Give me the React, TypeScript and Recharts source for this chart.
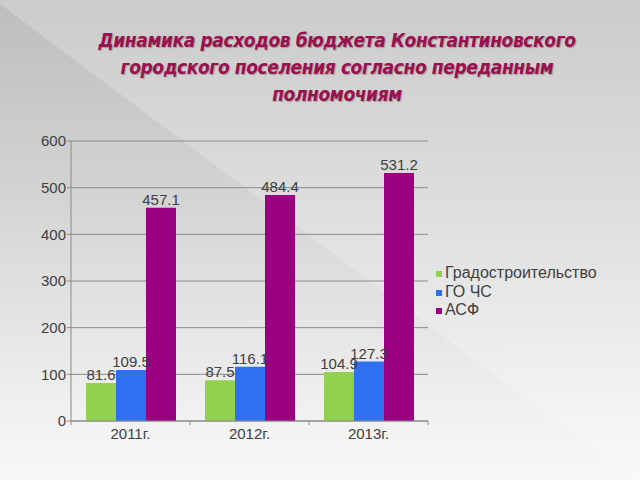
import React from 'react';
import { BarChart, Bar, XAxis, YAxis, CartesianGrid, Legend, LabelList } from 'recharts';

const categories = ['2011г.', '2012г.', '2013г.'];
const gradostroitelstvo = [81.6, 87.5, 104.9];
const goChs = [109.5, 116.1, 127.3];
const asf = [457.1, 484.4, 531.2];
const yTicks = [0, 100, 200, 300, 400, 500, 600];
const seriesNames = ['Градостроительство', 'ГО ЧС', 'АСФ'];
const seriesColors = ['#92d050', '#2f70f2', '#9b0080'];
const titleLines = [
  'Динамика расходов бюджета Константиновского',
  'городского поселения согласно переданным',
  'полномочиям',
];

const data = categories.map((c, i) => ({
  name: c,
  g: gradostroitelstvo[i],
  c: goChs[i],
  a: asf[i],
}));

const FONT = '"Liberation Sans", Arial, sans-serif';
const TEXT = '#404040';
const AXIS = '#8a8a8a';

const XTick = (props: any) => {
  const { x, y, payload, index, visibleTicksCount, width } = props;
  const half = payload && payload.offset ? payload.offset : width / visibleTicksCount / 2;
  const axisY = y - 6;
  return (
    <g>
      <line x1={x - half} x2={x - half} y1={axisY} y2={axisY + 4} stroke={AXIS} />
      {index === visibleTicksCount - 1 && (
        <line x1={x + half} x2={x + half} y1={axisY} y2={axisY + 4} stroke={AXIS} />
      )}
      <text x={x} y={y} dy="0.78em" textAnchor="middle" fill={TEXT} fontSize={15} fontFamily={FONT}>
        {payload.value}
      </text>
    </g>
  );
};

const renderLegend = (props: any) => {
  const payload: any[] = props.payload || [];
  const ordered = seriesNames
    .map((n) => payload.find((p: any) => p.value === n))
    .filter(Boolean);
  return (
    <div style={{ fontFamily: FONT, fontSize: 16, color: TEXT, lineHeight: '18.5px' }}>
      {ordered.map((p: any) => (
        <div key={p.value} style={{ display: 'flex', alignItems: 'center', whiteSpace: 'nowrap' }}>
          <span
            style={{
              display: 'inline-block',
              width: 6,
              height: 6,
              background: p.color,
              marginRight: 3,
              marginTop: 2,
            }}
          />
          <span>{p.value}</span>
        </div>
      ))}
    </div>
  );
};

export default function App() {
  return (
    <div
      style={{
        position: 'absolute',
        left: 0,
        top: 0,
        width: 640,
        height: 480,
        overflow: 'hidden',
        background: 'linear-gradient(to bottom, #bdbdbd 0%, #d3d3d3 40%, #f0f0f0 85%, #f8f8f8 100%)',
      }}
    >
      <div
        style={{
          position: 'absolute',
          left: 0,
          top: 0,
          width: 640,
          height: 480,
          background: 'rgba(255,255,255,0.22)',
          clipPath: 'polygon(0px 4px, 640px 484px, 640px 0px, 0px 0px)',
        }}
      />
      <div
        style={{
          position: 'absolute',
          left: 0,
          top: 27,
          width: 674,
          textAlign: 'center',
          fontFamily: '"DejaVu Sans Condensed", "DejaVu Sans", sans-serif',
          fontWeight: 'bold',
          fontStyle: 'italic',
          fontSize: 19,
          lineHeight: '27px',
          color: '#9a1050',
          textShadow: '1px 1px 1px rgba(0,0,0,0.25)',
          letterSpacing: '-0.4px',
        }}
      >
        {titleLines.map((l) => (
          <div key={l}>{l}</div>
        ))}
      </div>
      <div style={{ position: 'absolute', left: 0, top: 0 }}>
        <BarChart
          width={640}
          height={480}
          data={data}
          margin={{ top: 141, right: 212, bottom: 29, left: 0 }}
          barCategoryGap="12.6%"
          barGap={0}
        >
          <CartesianGrid vertical={false} stroke={AXIS} strokeWidth={1} />
          <XAxis
            dataKey="name"
            height={30}
            axisLine={{ stroke: AXIS }}
            tickLine={false}
            tickSize={4}
            tickMargin={2}
            tick={<XTick />}
            interval={0}
          />
          <YAxis
            width={71}
            domain={[0, 600]}
            ticks={yTicks}
            axisLine={{ stroke: AXIS }}
            tickLine={{ stroke: AXIS }}
            tickSize={4}
            tickMargin={1}
            tick={{ fill: TEXT, fontSize: 15, fontFamily: FONT }}
          />
          <Legend
            layout="vertical"
            align="center"
            verticalAlign="middle"
            content={renderLegend}
            wrapperStyle={{ left: 436, top: 264, width: 200, height: 60 }}
          />
          <Bar dataKey="g" name={seriesNames[0]} fill={seriesColors[0]} isAnimationActive={false}>
            <LabelList dataKey="g" position="top" offset={3} fill={TEXT} fontSize={15} fontFamily={FONT} />
          </Bar>
          <Bar dataKey="c" name={seriesNames[1]} fill={seriesColors[1]} isAnimationActive={false}>
            <LabelList dataKey="c" position="top" offset={3} fill={TEXT} fontSize={15} fontFamily={FONT} />
          </Bar>
          <Bar dataKey="a" name={seriesNames[2]} fill={seriesColors[2]} isAnimationActive={false}>
            <LabelList dataKey="a" position="top" offset={3} fill={TEXT} fontSize={15} fontFamily={FONT} />
          </Bar>
        </BarChart>
      </div>
    </div>
  );
}
